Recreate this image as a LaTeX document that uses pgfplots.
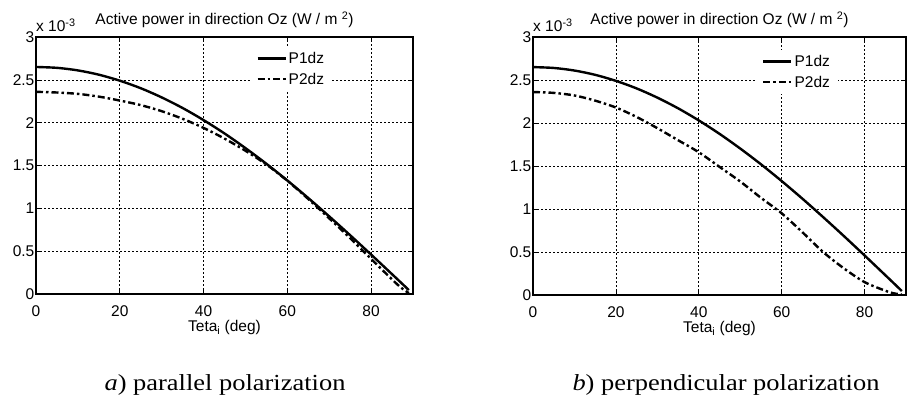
\documentclass[border=0pt]{standalone}
\usepackage{fontspec}
\setmainfont{Liberation Sans}
\newfontfamily\capfont{Liberation Serif}
\usepackage{pgfplots}
\pgfplotsset{compat=1.18}
\usepackage{pgfplotstable}

% theta (deg), P1dz, P2dz parallel, P2dz perpendicular (x 1e-3 W/m^2)
\pgfplotstableread{
theta p1    p2par p2perp
0     2.650 2.360 2.360
5     2.640 2.352 2.350
10    2.610 2.336 2.320
15    2.560 2.304 2.260
20    2.490 2.258 2.180
25    2.402 2.205 2.070
30    2.295 2.134 1.940
35    2.171 2.045 1.800
40    2.030 1.939 1.660
45    1.874 1.814 1.490
50    1.703 1.672 1.320
55    1.520 1.512 1.130
60    1.325 1.322 0.950
65    1.120 1.109 0.730
70    0.906 0.883 0.500
75    0.686 0.652 0.310
80    0.460 0.410 0.150
85    0.231 0.170 0.050
87    0.139 0.080 0.020
89    0.046 0.010 0.005
}\powertab

\newcommand{\axfont}{\fontsize{15.5bp}{18bp}\selectfont}
\newcommand{\ttl}{Active power in direction Oz (W / m \textsuperscript{2})}

\pgfplotsset{
  matlab/.style={
    scale only axis,
    width=377bp, height=257bp,
    anchor=south west,
    xmin=0, xmax=90, ymin=0, ymax=3,
    xtick={0,20,40,60,80},
    ytick={0,0.5,1,1.5,2,2.5,3},
    yticklabels={0,0.5,1,1.5,2,2.5,3},
    grid=major,
    major grid style={black, line width=0.6bp, dash pattern=on 2bp off 2bp},
    axis line style={black, line width=1.3bp},
    tick align=inside,
    major tick length=4bp,
    tick style={black, line width=0.6bp},
    /pgf/number format/assume math mode=true,
    tick label style={font=\axfont},
    xticklabel style={inner sep=0pt, yshift=-11bp},
    yticklabel style={inner sep=0pt, xshift=-1.5bp},
    xlabel={Teta\textsubscript{i} (deg)},
    xlabel style={font=\axfont, at={(axis description cs:0.5,0)}, anchor=base, yshift=-38bp, inner sep=0pt},
    legend style={draw=none, fill=white, font=\axfont, anchor=north west,
      inner xsep=6bp, inner ysep=3bp, row sep=4bp,
      /tikz/every even column/.append style={column sep=2bp}},
    legend cell align=left,
    legend image code/.code={\draw[##1] (0bp,0bp) -- (28bp,0bp);},
    clip mode=individual,
  },
  p1style/.style={black, line width=2.4bp, smooth},
  p2style/.style={black, line width=2.4bp, smooth, dash pattern=on 7bp off 3bp on 2.5bp off 3bp},
}

\begin{document}
\begin{tikzpicture}
\useasboundingbox (0,0) rectangle (907bp,405bp);

\begin{axis}[matlab, at={(36bp,111bp)},
  legend style={at={(0.568,0.961)}}]
  \addplot[p1style] table[x=theta, y=p1] {\powertab};
  \addplot[p2style] table[x=theta, y=p2par] {\powertab};
  \legend{P1dz,P2dz}
  \node[font=\axfont, anchor=base west, inner sep=0pt] at (rel axis cs:0,1) [yshift=5bp] {x 10\textsuperscript{-3}};
  \node[font=\axfont, anchor=base, inner sep=0pt] at (rel axis cs:0.5,1) [yshift=12bp] {\ttl};
\end{axis}

\begin{axis}[matlab, at={(533bp,110bp)}, width=373bp, height=258bp,
  legend style={at={(0.598,0.95)}}]
  \addplot[p1style] table[x=theta, y=p1] {\powertab};
  \addplot[p2style] table[x=theta, y=p2perp] {\powertab};
  \legend{P1dz,P2dz}
  \node[font=\axfont, anchor=base west, inner sep=0pt] at (rel axis cs:0,1) [yshift=5bp] {x 10\textsuperscript{-3}};
  \node[font=\axfont, anchor=base, inner sep=0pt] at (rel axis cs:0.5,1) [yshift=12bp] {\ttl};
\end{axis}

\node[anchor=base, inner sep=0pt, xscale=1.15] at (225bp,15bp)
  {\capfont\fontsize{23bp}{27bp}\selectfont\textit{a}) parallel polarization};
\node[anchor=base, inner sep=0pt, xscale=1.15] at (726bp,15bp)
  {\capfont\fontsize{23bp}{27bp}\selectfont\textit{b}) perpendicular polarization};
\end{tikzpicture}
\end{document}
